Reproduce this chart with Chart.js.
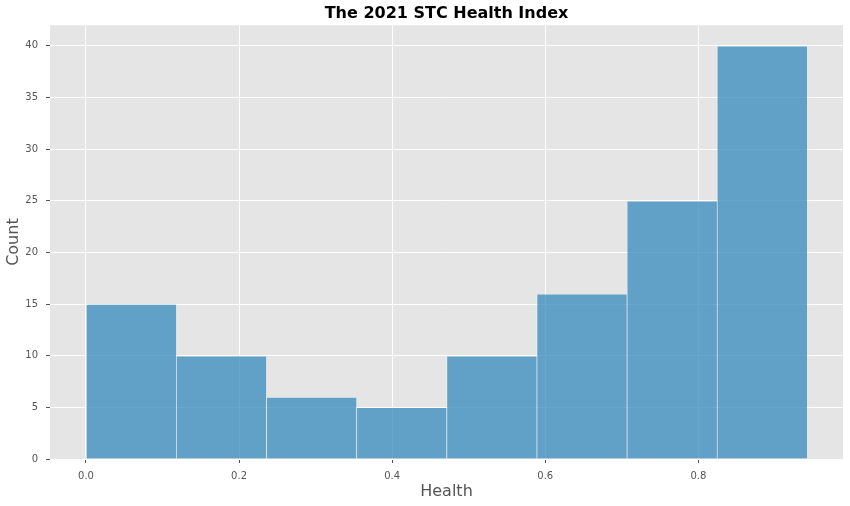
<!DOCTYPE html>
<html>
<head>
<meta charset="utf-8">
<script src="https://cdn.jsdelivr.net/npm/chart.js@4/dist/chart.umd.min.js"></script>
<style>
  html, body { margin: 0; padding: 0; background: #fff; }
  #wrap { width: 850px; height: 506px; }
</style>
</head>
<body>
<div id="wrap"><canvas id="c" width="850" height="506"></canvas></div>
<script>
const titleText = 'The 2021 STC Health Index';
const xTitle = 'Health';
const yTitle = 'Count';
const binCenters = [0.0589, 0.1766, 0.2944, 0.4121, 0.5299, 0.6476, 0.7654, 0.8831];
const counts = [15, 10, 6, 5, 10, 16, 25, 40];
const xTicks = [0.0, 0.2, 0.4, 0.6, 0.8];
const yTicks = [0, 5, 10, 15, 20, 25, 30, 35, 40];

const bgPlugin = {
  id: 'bg',
  beforeDraw(chart) {
    const {ctx, chartArea: a} = chart;
    ctx.save();
    ctx.fillStyle = '#E5E5E5';
    ctx.fillRect(a.left, a.top, a.right - a.left, a.bottom - a.top);
    ctx.restore();
  }
};

const tickFont = { family: 'DejaVu Sans', size: 10 };
const axisTitleFont = { family: 'DejaVu Sans', size: 16 };

new Chart(document.getElementById('c'), {
  type: 'bar',
  data: {
    datasets: [{
      data: binCenters.map((x, i) => ({ x: x, y: counts[i] })),
      backgroundColor: 'rgba(52,138,189,0.75)',
      borderColor: 'rgba(255,255,255,0.25)',
      borderWidth: { left: 1, top: 1, right: 0, bottom: 0 },
      categoryPercentage: 1,
      barPercentage: 1
    }]
  },
  options: {
    responsive: false,
    animation: false,
    layout: { padding: { left: 0, right: 7, top: 0, bottom: 0 } },
    plugins: {
      legend: { display: false },
      tooltip: { enabled: false },
      title: {
        display: true,
        text: titleText,
        fullSize: false,
        color: '#000',
        font: { family: 'DejaVu Sans', size: 16, weight: 'bold' },
        padding: { top: 4, bottom: 2 }
      }
    },
    scales: {
      x: {
        type: 'linear',
        offset: false,
        min: -0.047,
        max: 0.989,
        afterBuildTicks(scale) { scale.ticks = xTicks.map(v => ({ value: v })); },
        afterFit(scale) { scale.height = 47; },
        ticks: {
          color: '#555',
          font: tickFont,
          padding: 7,
          maxRotation: 0,
          callback: v => Number(v).toFixed(1)
        },
        grid: { offset: false, color: '#fff', lineWidth: 1, tickColor: '#555', tickLength: 4, tickWidth: 1 },
        border: { display: false },
        title: { display: true, text: xTitle, color: '#555', font: axisTitleFont, padding: { top: 0, bottom: 5 } }
      },
      y: {
        type: 'linear',
        min: 0,
        max: 42,
        afterBuildTicks(scale) { scale.ticks = yTicks.map(v => ({ value: v })); },
        afterFit(scale) { scale.width = 50; },
        ticks: { color: '#555', font: tickFont, padding: 8 },
        grid: { color: '#fff', lineWidth: 1, tickColor: '#555', tickLength: 4, tickWidth: 1 },
        border: { display: false },
        title: { display: true, text: yTitle, color: '#555', font: axisTitleFont, padding: { top: 4, bottom: 0 } }
      }
    }
  },
  plugins: [bgPlugin]
});
</script>
</body>
</html>
